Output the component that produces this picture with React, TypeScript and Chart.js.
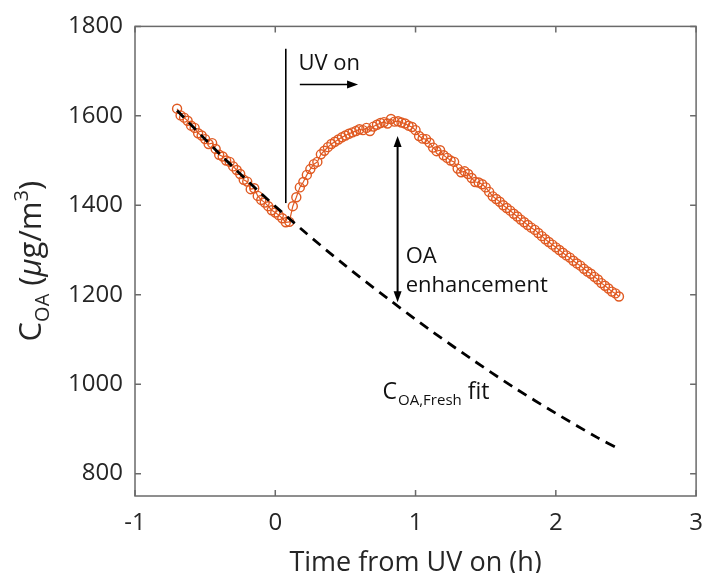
import React, { useEffect, useRef } from "react";
import { Chart, registerables } from "chart.js";

Chart.register(...registerables);

// ---- data ----
const X_TICKS = [-1, 0, 1, 2, 3];
const Y_TICKS = [800, 1000, 1200, 1400, 1600, 1800];
const X_MIN = -1;
const X_MAX = 3;
const Y_MIN = 750;
const Y_MAX = 1800;

// measured C_OA, sampled every 0.025 h starting at t = -0.7 h
const T_START = -0.7;
const T_STEP = 0.025;
const COA_VALUES = [
  1616, 1601, 1596, 1589, 1578, 1573, 1561, 1556, 1548, 1537,
  1539, 1526, 1513, 1509, 1500, 1497, 1487, 1479, 1470, 1457,
  1453, 1436, 1438, 1421, 1412, 1406, 1398, 1389, 1384, 1378,
  1371, 1362, 1363, 1398, 1418, 1440, 1452, 1468, 1481, 1492,
  1497, 1514, 1522, 1530, 1537, 1542, 1547, 1552, 1556, 1560,
  1563, 1566, 1570, 1568, 1573, 1566, 1576, 1580, 1584, 1586,
  1583, 1593, 1587, 1588, 1585, 1583, 1578, 1575, 1568, 1555,
  1549, 1548, 1540, 1529, 1521, 1523, 1512, 1506, 1500, 1497,
  1482, 1474, 1476, 1470, 1461, 1452, 1451, 1447, 1440, 1430,
  1420, 1414, 1408, 1400, 1394, 1388, 1381, 1375, 1368, 1362,
  1356, 1350, 1345, 1338, 1331, 1324, 1318, 1312, 1306, 1300,
  1294, 1288, 1283, 1276, 1270, 1265, 1258, 1252, 1247, 1240,
  1234, 1226, 1220, 1214, 1207, 1203, 1196,
];

// fresh-OA fit (dashed)
const FIT_TIMES = [-0.7, -0.4, -0.1, 0.2, 0.5, 0.8, 1.1, 1.4, 1.7, 2.0, 2.3, 2.45];
const FIT_VALUES = [1612, 1516, 1426, 1343, 1265, 1192, 1122, 1056, 993, 935, 880, 855];

// annotations (data coordinates)
const UV_LINE_T = 0.075;
const UV_LINE_FROM = 1405;
const UV_LINE_TO = 1750;
const UV_TEXT = "UV on";
const UV_TEXT_POS = { t: 0.165, v: 1716 };
const UV_ARROW = { t0: 0.175, t1: 0.59, v: 1670 };
const ENH_ARROW = { t: 0.872, v0: 1183, v1: 1555 };
const ENH_TEXT = ["OA", "enhancement"];
const ENH_TEXT_POS = { t: 0.93, v1: 1272, v2: 1207 };
const FIT_LABEL_POS = { t: 0.765, v: 968 };

const ORANGE = "#E05A22";
const FONT = "'Open Sans', 'Liberation Sans', sans-serif";
const TEXT_COLOR = "#262626";

function arrowHead(ctx: CanvasRenderingContext2D, x: number, y: number, dx: number, dy: number, len: number, half: number) {
  const L = Math.hypot(dx, dy);
  const ux = dx / L, uy = dy / L;
  const bx = x - ux * len, by = y - uy * len;
  ctx.beginPath();
  ctx.moveTo(x, y);
  ctx.lineTo(bx - uy * half, by + ux * half);
  ctx.lineTo(bx + uy * half, by - ux * half);
  ctx.closePath();
  ctx.fill();
}

const annotPlugin = {
  id: "annot",
  afterDatasetsDraw(chart: any) {
    const ctx: CanvasRenderingContext2D = chart.ctx;
    const xs = chart.scales.x;
    const ys = chart.scales.y;
    const { left, right, top, bottom } = chart.chartArea;
    ctx.save();

    // frame
    ctx.strokeStyle = "#6a6a6a";
    ctx.lineWidth = 1.5;
    ctx.strokeRect(left, top, right - left, bottom - top);
    // inner ticks
    const TL = 6;
    ctx.beginPath();
    for (const v of X_TICKS) {
      const px = xs.getPixelForValue(v);
      ctx.moveTo(px, bottom);
      ctx.lineTo(px, bottom - TL);
      ctx.moveTo(px, top);
      ctx.lineTo(px, top + TL);
    }
    for (const v of Y_TICKS) {
      const py = ys.getPixelForValue(v);
      ctx.moveTo(left, py);
      ctx.lineTo(left + TL, py);
      ctx.moveTo(right, py);
      ctx.lineTo(right - TL, py);
    }
    ctx.stroke();

    // UV on vertical line
    ctx.strokeStyle = "#000";
    ctx.fillStyle = "#000";
    ctx.lineWidth = 1.6;
    const ux = xs.getPixelForValue(UV_LINE_T);
    ctx.beginPath();
    ctx.moveTo(ux, ys.getPixelForValue(UV_LINE_FROM));
    ctx.lineTo(ux, ys.getPixelForValue(UV_LINE_TO));
    ctx.stroke();

    // UV on text
    ctx.font = `22px ${FONT}`;
    ctx.textAlign = "left";
    ctx.textBaseline = "middle";
    ctx.fillStyle = "#111";
    ctx.fillText(UV_TEXT, xs.getPixelForValue(UV_TEXT_POS.t), ys.getPixelForValue(UV_TEXT_POS.v));

    // UV arrow
    ctx.fillStyle = "#000";
    const ax0 = xs.getPixelForValue(UV_ARROW.t0);
    const ax1 = xs.getPixelForValue(UV_ARROW.t1);
    const ay = ys.getPixelForValue(UV_ARROW.v);
    ctx.lineWidth = 1.6;
    ctx.beginPath();
    ctx.moveTo(ax0, ay);
    ctx.lineTo(ax1 - 8, ay);
    ctx.stroke();
    arrowHead(ctx, ax1, ay, 1, 0, 11, 4);

    // OA enhancement double arrow
    const ex = xs.getPixelForValue(ENH_ARROW.t);
    const ey0 = ys.getPixelForValue(ENH_ARROW.v0);
    const ey1 = ys.getPixelForValue(ENH_ARROW.v1);
    ctx.lineWidth = 2;
    ctx.beginPath();
    ctx.moveTo(ex, ey0 - 8);
    ctx.lineTo(ex, ey1 + 8);
    ctx.stroke();
    arrowHead(ctx, ex, ey1, 0, -1, 11, 4);
    arrowHead(ctx, ex, ey0, 0, 1, 11, 4);

    ctx.fillStyle = "#111";
    ctx.textBaseline = "alphabetic";
    ctx.font = `22px ${FONT}`;
    const tx = xs.getPixelForValue(ENH_TEXT_POS.t);
    ctx.fillText(ENH_TEXT[0], tx, ys.getPixelForValue(ENH_TEXT_POS.v1));
    ctx.fillText(ENH_TEXT[1], tx, ys.getPixelForValue(ENH_TEXT_POS.v2));

    // C_OA,Fresh fit label
    let fx = xs.getPixelForValue(FIT_LABEL_POS.t);
    const fy = ys.getPixelForValue(FIT_LABEL_POS.v);
    ctx.font = `23px ${FONT}`;
    ctx.fillText("C", fx, fy);
    fx += ctx.measureText("C").width + 1;
    ctx.font = `15px ${FONT}`;
    ctx.fillText("OA,Fresh", fx, fy + 6);
    fx += ctx.measureText("OA,Fresh").width + 6;
    ctx.font = `23px ${FONT}`;
    ctx.fillText("fit", fx, fy);

    // Y axis title (rotated)
    const big = 31;
    const small = 20;
    const parts: { s: string; f: string; dy: number }[] = [
      { s: "C", f: `${big}px ${FONT}`, dy: 0 },
      { s: "OA", f: `${small}px ${FONT}`, dy: 8 },
      { s: " (", f: `${big}px ${FONT}`, dy: 0 },
      { s: "\u03bc", f: `italic ${big}px ${FONT}`, dy: 0 },
      { s: "g/m", f: `${big}px ${FONT}`, dy: 0 },
      { s: "3", f: `${small}px ${FONT}`, dy: -13 },
      { s: ")", f: `${big}px ${FONT}`, dy: 0 },
    ];
    let total = 0;
    const widths: number[] = [];
    for (const p of parts) {
      ctx.font = p.f;
      const w = ctx.measureText(p.s).width;
      widths.push(w);
      total += w;
    }
    ctx.translate(41, (top + bottom) / 2);
    ctx.rotate(-Math.PI / 2);
    ctx.fillStyle = TEXT_COLOR;
    ctx.textAlign = "left";
    ctx.textBaseline = "alphabetic";
    let cx = -total / 2;
    parts.forEach((p, i) => {
      ctx.font = p.f;
      ctx.fillText(p.s, cx, p.dy);
      cx += widths[i];
    });
    ctx.restore();
  },
};

const xTitlePlugin = {
  id: "xTitle",
  afterDraw(chart: any) {
    const ctx: CanvasRenderingContext2D = chart.ctx;
    const { left, right } = chart.chartArea;
    ctx.save();
    ctx.font = `27px ${FONT}`;
    ctx.fillStyle = TEXT_COLOR;
    ctx.textAlign = "center";
    ctx.textBaseline = "alphabetic";
    ctx.fillText("Time from UV on (h)", (left + right) / 2, 571);
    ctx.restore();
  },
};

export default function App() {
  const ref = useRef<HTMLCanvasElement | null>(null);
  useEffect(() => {
    if (!ref.current) return;
    const measured = COA_VALUES.map((v, i) => ({ x: T_START + i * T_STEP, y: v }));
    const fit = FIT_TIMES.map((t, i) => ({ x: t, y: FIT_VALUES[i] }));
    const chart = new Chart(ref.current, {
      type: "scatter",
      data: {
        datasets: [
          {
            label: "C_OA,Fresh fit",
            data: fit,
            showLine: true,
            borderColor: "#000",
            borderWidth: 2.8,
            borderDash: [10, 7],
            pointRadius: 0,
            tension: 0.3,
          },
          {
            label: "C_OA",
            data: measured,
            showLine: true,
            borderColor: ORANGE,
            borderWidth: 1.2,
            pointRadius: 4.5,
            pointBorderWidth: 1.4,
            pointBorderColor: ORANGE,
            pointBackgroundColor: "rgba(0,0,0,0)",
          },
        ],
      } as any,
      options: {
        animation: false,
        responsive: false,
        maintainAspectRatio: false,
        layout: { padding: { top: 26, right: 5, bottom: 0, left: 0 } },
        plugins: { legend: { display: false }, tooltip: { enabled: false } },
        scales: {
          x: {
            type: "linear",
            min: X_MIN,
            max: X_MAX,
            afterBuildTicks: (s: any) => {
              s.ticks = X_TICKS.map((v) => ({ value: v }));
            },
            afterFit: (s: any) => {
              s.height = 77;
              s.paddingRight = 0;
            },
            grid: { display: false, drawTicks: false },
            border: { display: false },
            ticks: {
              font: { family: FONT, size: 24 },
              color: TEXT_COLOR,
              padding: 13,
              maxRotation: 0,
              callback: (v: any) => String(v),
            },
          },
          y: {
            type: "linear",
            min: Y_MIN,
            max: Y_MAX,
            afterBuildTicks: (s: any) => {
              s.ticks = Y_TICKS.map((v) => ({ value: v }));
            },
            afterFit: (s: any) => {
              s.width = 135;
            },
            grid: { display: false, drawTicks: false },
            border: { display: false },
            ticks: {
              font: { family: FONT, size: 24 },
              color: TEXT_COLOR,
              padding: 12,
              callback: (v: any) => String(v),
            },
          },
        },
      } as any,
      plugins: [annotPlugin, xTitlePlugin],
    });
    return () => chart.destroy();
  }, []);
  return (
    <div style={{ position: "absolute", left: 0, top: 0, width: 702, height: 573, overflow: "hidden", background: "#fff" }}>
      <canvas ref={ref} width={702} height={573} style={{ display: "block" }} />
    </div>
  );
}
